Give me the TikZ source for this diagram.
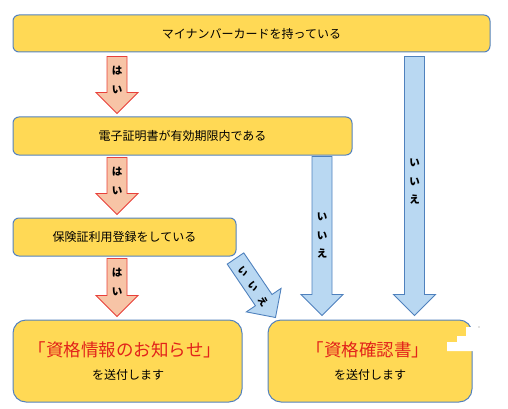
\documentclass[tikz,border=0pt]{standalone}
\usepackage{fontspec}
\setmainfont{Noto Sans CJK JP}
\usetikzlibrary{calc}

\definecolor{boxfill}{RGB}{255,217,85}
\definecolor{boxline}{RGB}{84,130,190}
\definecolor{yesfill}{RGB}{247,196,166}
\definecolor{yesline}{RGB}{232,64,58}
\definecolor{nofill}{RGB}{185,216,242}
\definecolor{noline}{RGB}{79,129,189}
\definecolor{titlered}{RGB}{226,35,26}

\tikzset{
  question/.style={draw=boxline, fill=boxfill, line width=1pt, rounded corners=6pt,
    inner sep=0pt, font=\fontsize{12}{14}\selectfont},
  result/.style={draw=boxline, fill=boxfill, line width=1pt, rounded corners=13pt,
    inner sep=0pt, minimum height=82pt},
  yesarrow/.style={draw=yesline, fill=yesfill, line width=0.9pt, line join=miter},
  noarrow/.style={draw=noline, fill=nofill, line width=0.9pt, line join=miter},
  arrowtext/.style={align=center, inner sep=0pt, font=\fontsize{10.5}{18.5}\selectfont\bfseries},
  slanttext/.style={inner sep=0pt, font=\fontsize{10}{12}\selectfont\bfseries, rotate=-55.7}
}

\newcommand\blockarrow[3]{%
  \coordinate (hb) at ($(#3)!21pt!(#2)$);
  \filldraw[#1] ($(#2)!10pt!90:(#3)$) -- ($(hb)!10pt!90:(#3)$) -- ($(hb)!21pt!90:(#3)$)
    -- (#3) -- ($(hb)!21pt!-90:(#3)$) -- ($(hb)!10pt!-90:(#3)$) -- ($(#2)!10pt!-90:(#3)$) -- cycle;
}

\begin{document}
\begin{tikzpicture}[x=1pt,y=-1pt]
\useasboundingbox (0,0) rectangle (508,409);

\node[question, minimum width=477pt, minimum height=37pt] (card) at (251.5,33.5) {マイナンバーカードを持っている};
\node[question, minimum width=339pt, minimum height=38pt] (cert) at (182.5,136) {電子証明書が有効期限内である};
\node[question, minimum width=223pt, minimum height=38pt] (reg) at (124.5,237) {保険証利用登録をしている};

\node[result, minimum width=229pt] (info) at (127.5,361) {};
\node[result, minimum width=204pt] (conf) at (370,361) {};
\node[text=titlered, font=\fontsize{17.5}{20}\selectfont] (infot) at (125,350) {「資格情報のお知らせ」};
\node[font=\fontsize{12}{14}\selectfont] (infos) at (128,375) {を送付します};
\node[text=titlered, font=\fontsize{17.5}{20}\selectfont] (conft) at (368,350) {「資格確認書」};
\node[font=\fontsize{12}{14}\selectfont] (confs) at (370,375) {を送付します};

\fill[white] (447,342) -- (457,342) -- (457,336) -- (466,336) -- (466,327) -- (474,327) -- (474,351) -- (447,351) -- cycle;
\fill[gray] (479,327) circle (0.6pt);

\coordinate (yx) at (117,0);
\coordinate (nx1) at (322,0);
\coordinate (nx2) at (414.5,0);

\blockarrow{yesarrow}{$(card.south -| yx)+(0,4)$}{$(cert.north -| yx)+(0,-3)$}
\blockarrow{yesarrow}{$(cert.south -| yx)+(0,2)$}{$(reg.north -| yx)+(0,-3)$}
\blockarrow{yesarrow}{$(reg.south -| yx)+(0,2)$}{$(info.north -| yx)+(0,-3)$}
\blockarrow{noarrow}{$(card.south -| nx2)+(0,4)$}{$(conf.north -| nx2)+(0,-4)$}
\blockarrow{noarrow}{$(cert.south -| nx1)+(0,1)$}{$(conf.north -| nx1)+(0,-4)$}
\blockarrow{noarrow}{$(reg.south east)+(-1,2)$}{$(conf.north west)+(8,-2)$}

\node[arrowtext] (yes1) at (117,80) {は\\い};
\node[arrowtext] (yes2) at (117,181) {は\\い};
\node[arrowtext] (yes3) at (117,282) {は\\い};
\node[arrowtext] (no1) at (414.5,182) {い\\い\\え};
\node[arrowtext] (no2) at (322,236) {い\\い\\え};
\node[slanttext] (no3a) at (243,272) {い};
\node[slanttext] (no3b) at (253,287) {い};
\node[slanttext] (no3c) at (263,302) {え};
\end{tikzpicture}
\end{document}
